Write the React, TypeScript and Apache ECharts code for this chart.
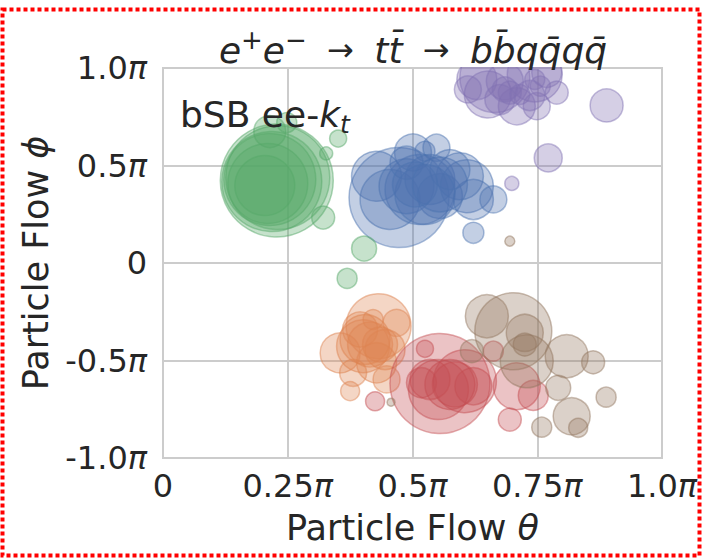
import { useEffect, useRef } from "react";
import * as echarts from "echarts";

const FONT = '"DejaVu Sans", "Liberation Sans", sans-serif';
const INK = "#262626";
const GRID = "#cccccc";

// Axis ticks (in units of π) and their labels
const xTicks = [0, 0.25, 0.5, 0.75, 1.0];
const xTickLabels = ["0", "0.25π", "0.5π", "0.75π", "1.0π"];
const yTicks = [-1.0, -0.5, 0, 0.5, 1.0];
const yTickLabels = ["-1.0π", "-0.5π", "0", "0.5π", "1.0π"];

// Particle-flow candidates per jet: θ (×π), φ (×π), marker size
const blueTheta = [0.473, 0.428, 0.455, 0.501, 0.525, 0.548, 0.515, 0.488, 0.535, 0.555, 0.609, 0.595, 0.622, 0.662, 0.622, 0.488, 0.575, 0.525, 0.505, 0.555];
const bluePhi = [0.336, 0.445, 0.326, 0.567, 0.573, 0.591, 0.377, 0.394, 0.428, 0.343, 0.394, 0.445, 0.326, 0.326, 0.155, 0.514, 0.479, 0.351, 0.403, 0.403];
const blueSize = [100, 50, 60, 37, 20, 27, 70, 55, 50, 45, 53, 47, 40, 27, 21, 33, 40, 60, 45, 55];

const orangeTheta = [0.432, 0.355, 0.401, 0.468, 0.421, 0.428, 0.375, 0.448, 0.381, 0.415, 0.445, 0.395, 0.405, 0.435];
const orangePhi = [-0.324, -0.461, -0.427, -0.307, -0.29, -0.512, -0.657, -0.597, -0.563, -0.418, -0.444, -0.341, -0.392, -0.418];
const orangeSize = [65, 40, 53, 27, 20, 40, 19, 27, 27, 45, 40, 35, 50, 35];

const greenTheta = [0.228, 0.218, 0.214, 0.21, 0.204, 0.23, 0.214, 0.248, 0.351, 0.327, 0.321, 0.403, 0.369];
const greenPhi = [0.423, 0.418, 0.428, 0.408, 0.397, 0.438, 0.674, 0.72, 0.638, 0.562, 0.233, 0.074, -0.079];
const greenSize = [113, 100, 92, 80, 60, 104, 32, 20, 17, 13, 23, 25, 20];

const redTheta = [0.555, 0.605, 0.552, 0.518, 0.622, 0.525, 0.709, 0.742, 0.695, 0.662, 0.425, 0.575, 0.585, 0.535];
const redPhi = [-0.618, -0.606, -0.649, -0.614, -0.632, -0.44, -0.632, -0.679, -0.803, -0.452, -0.709, -0.623, -0.623, -0.597];
const redSize = [100, 63, 60, 30, 37, 17, 47, 30, 23, 20, 19, 50, 45, 40];

const purpleTheta = [0.665, 0.745, 0.629, 0.651, 0.611, 0.685, 0.709, 0.695, 0.749, 0.769, 0.756, 0.789, 0.745, 0.889, 0.772, 0.699, 0.735, 0.675, 0.685, 0.715];
const purplePhi = [0.951, 0.967, 0.941, 0.864, 0.89, 0.932, 0.804, 0.874, 0.804, 0.977, 0.907, 0.874, 0.941, 0.808, 0.539, 0.408, 0.859, 0.838, 0.89, 0.864];
const purpleSize = [70, 55, 40, 47, 27, 37, 37, 23, 27, 30, 20, 23, 20, 33, 28, 14, 30, 30, 25, 20];

const brownTheta = [0.649, 0.702, 0.725, 0.725, 0.729, 0.809, 0.862, 0.792, 0.819, 0.832, 0.759, 0.888, 0.619, 0.695, 0.457];
const brownPhi = [-0.273, -0.35, -0.358, -0.418, -0.504, -0.478, -0.509, -0.64, -0.786, -0.845, -0.842, -0.688, -0.452, 0.112, -0.714];
const brownSize = [43, 77, 37, 23, 53, 43, 23, 25, 37, 19, 20, 20, 23, 10, 8];

const jets = [
  { name: "jet 1", rgb: "76,114,176", theta: blueTheta, phi: bluePhi, size: blueSize },
  { name: "jet 2", rgb: "221,132,82", theta: orangeTheta, phi: orangePhi, size: orangeSize },
  { name: "jet 3", rgb: "85,168,104", theta: greenTheta, phi: greenPhi, size: greenSize },
  { name: "jet 4", rgb: "196,78,82", theta: redTheta, phi: redPhi, size: redSize },
  { name: "jet 5", rgb: "129,114,179", theta: purpleTheta, phi: purplePhi, size: purpleSize },
  { name: "jet 6", rgb: "147,120,96", theta: brownTheta, phi: brownPhi, size: brownSize },
];

const GRID_BOX = { left: 163, top: 68, width: 499, height: 390 };

const piRich = {
  pi: { fontFamily: FONT, fontStyle: "italic" as const, fontSize: 32, color: INK },
};

function tickText(ticks: number[], labels: string[], v: number) {
  const i = ticks.findIndex((t) => Math.abs(t - v) < 1e-6);
  if (i < 0) return "";
  return labels[i].replace("π", "{pi|π}");
}

function buildOption(): echarts.EChartsOption {
  return {
    animation: false,
    backgroundColor: "#ffffff",
    grid: {
      ...GRID_BOX,
      show: true,
      borderColor: GRID,
      borderWidth: 2,
      backgroundColor: "transparent",
    },
    xAxis: {
      type: "value",
      min: 0,
      max: 1,
      interval: 0.25,
      name: "Particle Flow {m|θ}",
      nameLocation: "middle",
      nameGap: 52,
      nameTextStyle: {
        fontFamily: FONT,
        fontSize: 35,
        color: INK,
        rich: { m: { fontFamily: FONT, fontStyle: "italic", fontSize: 35, color: INK } },
      },
      axisLine: { show: false },
      axisTick: { show: false },
      splitLine: { show: true, lineStyle: { color: GRID, width: 2 } },
      axisLabel: {
        fontFamily: FONT,
        fontSize: 32,
        color: INK,
        margin: 12,
        formatter: (v: number) => tickText(xTicks, xTickLabels, v),
        rich: piRich,
      },
    },
    yAxis: {
      type: "value",
      min: -1,
      max: 1,
      interval: 0.5,
      name: "Particle Flow {m|ϕ}",
      nameLocation: "middle",
      nameGap: 110,
      nameTextStyle: {
        fontFamily: FONT,
        fontSize: 35,
        color: INK,
        rich: { m: { fontFamily: FONT, fontStyle: "italic", fontSize: 35, color: INK } },
      },
      axisLine: { show: false },
      axisTick: { show: false },
      splitLine: { show: true, lineStyle: { color: GRID, width: 2 } },
      axisLabel: {
        fontFamily: FONT,
        fontSize: 32,
        color: INK,
        margin: 16,
        formatter: (v: number) => tickText(yTicks, yTickLabels, v),
        rich: piRich,
      },
    },
    series: jets.map((j) => ({
      type: "scatter" as const,
      name: j.name,
      silent: true,
      symbol: "circle",
      symbolSize: (val: number[]) => val[2],
      data: j.theta.map((t, i) => [t, j.phi[i], j.size[i]]),
      itemStyle: {
        color: `rgba(${j.rgb},0.42)`,
        borderColor: `rgba(${j.rgb},0.6)`,
        borderWidth: 1.5,
      },
    })),
    graphic: [
      // masks markers that spill above the plotting area
      {
        type: "rect",
        z: 50,
        silent: true,
        shape: { x: GRID_BOX.left - 2, y: 0, width: GRID_BOX.width + 4, height: GRID_BOX.top - 1 },
        style: { fill: "#ffffff" },
      },
      {
        type: "text",
        z: 100,
        x: 413,
        y: 50,
        style: {
          text: "{i|e}{sup|+}{i|e}{sup|−}{n|  →  }{i|tt̄}{n|  →  }{i|bb̄qq̄qq̄}",
          textAlign: "center",
          textVerticalAlign: "middle",
          rich: {
            i: { fontFamily: FONT, fontStyle: "italic", fontSize: 36, lineHeight: 46, fill: INK },
            n: { fontFamily: FONT, fontSize: 32, lineHeight: 46, fill: INK },
            sup: { fontFamily: FONT, fontSize: 26, lineHeight: 28, verticalAlign: "top", fill: INK },
          },
        } as any,
      },
      {
        type: "text",
        z: 100,
        x: 180,
        y: 114,
        style: {
          text: "{n|bSB ee-}{k|k}{t|t}",
          textAlign: "left",
          textVerticalAlign: "middle",
          rich: {
            n: { fontFamily: FONT, fontSize: 36, lineHeight: 46, fill: INK },
            k: { fontFamily: FONT, fontStyle: "italic", fontSize: 36, lineHeight: 46, fill: INK },
            t: { fontFamily: FONT, fontStyle: "italic", fontSize: 25, lineHeight: 32, verticalAlign: "bottom", fill: INK },
          },
        } as any,
      },
      // dotted frame
      {
        type: "rect",
        z: 200,
        silent: true,
        shape: { x: 2.5, y: 9.5, width: 697, height: 546 },
        style: { fill: "none", stroke: "#ff0000", lineWidth: 4, lineDash: [4, 3] },
      },
    ],
  } as echarts.EChartsOption;
}

export default function App() {
  const ref = useRef<HTMLDivElement>(null);
  useEffect(() => {
    document.body.style.margin = "0";
    const chart = echarts.init(ref.current!, null, { renderer: "svg" });
    chart.setOption(buildOption());
    return () => chart.dispose();
  }, []);
  return <div ref={ref} style={{ width: 702, height: 559 }} />;
}
